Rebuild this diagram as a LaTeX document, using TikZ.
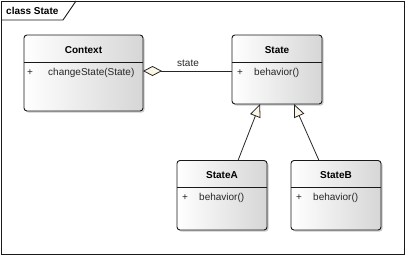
\documentclass[tikz,border=0pt]{standalone}
\usepackage{fontspec}
\setmainfont{Liberation Sans}
\usetikzlibrary{arrows.meta,shadows,calc}
\definecolor{diafill}{HTML}{FCF6E6}
\definecolor{boxgray}{HTML}{D6D6D6}
\begin{document}
\begin{tikzpicture}[x=1pt,y=-1pt,
  umlbox/.style={draw=black!90, line width=0.9pt, rounded corners=3pt,
    left color=white, right color=boxgray, shading angle=90,
    drop shadow={shadow xshift=1.6pt, shadow yshift=-1.6pt, fill=black!35, opacity=0.6},
    anchor=north west, inner sep=0pt, outer sep=0pt},
  ttl/.style={font=\fontsize{10}{12}\selectfont\bfseries, text=black, inner sep=0pt},
  mth/.style={font=\fontsize{10}{12}\selectfont, text=black!85, inner sep=0pt, anchor=west},
  divider/.style={draw=black!90, line width=0.9pt},
  gen/.style={draw=black!85, line width=0.8pt, -{Triangle[length=13pt,width=11pt,fill=diafill,line width=0.8pt]}},
  agg/.style={draw=black!85, line width=0.8pt, {Diamond[length=19pt,width=10pt,fill=diafill,line width=0.8pt]}-}
]
\useasboundingbox (0,0) rectangle (406,255);
% frame
\node[draw=black!90, line width=1pt, minimum width=403pt, minimum height=253pt, anchor=north west, inner sep=0pt] (frame) at (1,1) {};
\draw[black!90, line width=0.9pt] (frame.north west |- 0,20) -- (63,20) -- (76,1);
\node[ttl, anchor=west] (ftitle) at (6,11) {class State};

% Context
\node[umlbox, minimum width=119pt, minimum height=76pt] (ctx) at (24,35) {};
\draw[divider] (ctx.west |- 0,62) -- (ctx.east |- 0,62);
\node[ttl] (ctxT) at ($(ctx.north)+(0,15)$) {Context};
\node[mth] (ctxP) at ($(ctx.north west)+(3,37.5)$) {+};
\node[mth] (ctxM) at ($(ctx.north west)+(24,37.5)$) {changeState(State)};

% State
\node[umlbox, minimum width=90pt, minimum height=69pt] (st) at (232,35) {};
\draw[divider] (st.west |- 0,62.5) -- (st.east |- 0,62.5);
\node[ttl] (stT) at ($(st.north)+(0,15)$) {State};
\node[mth] (stP) at ($(st.north west)+(5,37.5)$) {+};
\node[mth] (stM) at ($(st.north west)+(22,37.5)$) {behavior()};

% StateA
\node[umlbox, minimum width=90pt, minimum height=69.5pt] (sa) at (177,160.5) {};
\draw[divider] (sa.west |- 0,187) -- (sa.east |- 0,187);
\node[ttl] (saT) at ($(sa.north)+(0,15)$) {StateA};
\node[mth] (saP) at ($(sa.north west)+(5,37)$) {+};
\node[mth] (saM) at ($(sa.north west)+(22,37)$) {behavior()};

% StateB
\node[umlbox, minimum width=90pt, minimum height=69.5pt] (sb) at (291,160.5) {};
\draw[divider] (sb.west |- 0,187) -- (sb.east |- 0,187);
\node[ttl] (sbT) at ($(sb.north)+(0,15)$) {StateB};
\node[mth] (sbP) at ($(sb.north west)+(5,37)$) {+};
\node[mth] (sbM) at ($(sb.north west)+(22,37)$) {behavior()};

% connectors
\draw[agg] (ctx.east |- 0,71) -- (st.west |- 0,71);
\node[mth, anchor=center] (lbl) at (188,63) {state};
\draw[gen] ($(sa.north west)+(61,0)$) -- ($(st.south west)+(28,0)$);
\draw[gen] ($(sb.north west)+(28,0)$) -- ($(st.south west)+(62,0)$);
\end{tikzpicture}
\end{document}
